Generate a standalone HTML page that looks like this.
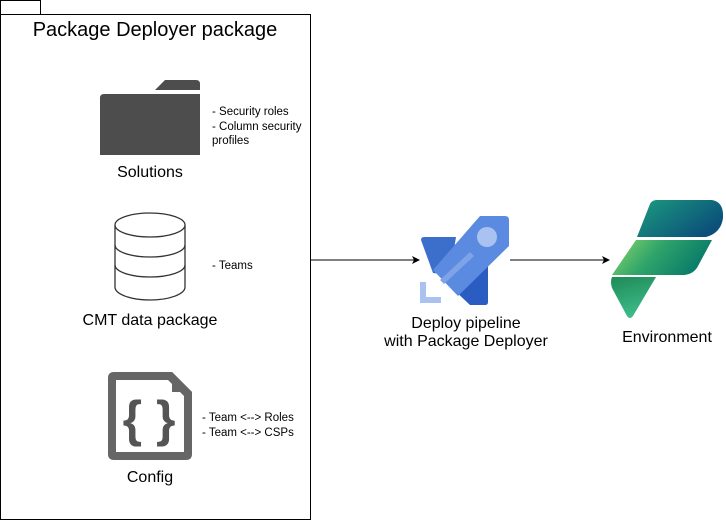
<!DOCTYPE html>
<html><head><style>
html,body{margin:0;padding:0;background:#fff;width:726px;height:521px;overflow:hidden}
text{font-family:"Liberation Sans",Arial,sans-serif;fill:#000}
</style></head><body>
<svg width="726" height="521" viewBox="0 0 726 521" xmlns="http://www.w3.org/2000/svg">
<defs>
<linearGradient id="g1" x1="0" y1="0" x2="1" y2="0.6"><stop offset="0" stop-color="#1c9c7e"/><stop offset="1" stop-color="#0b4f7a"/></linearGradient>
<linearGradient id="g2" x1="0" y1="0" x2="1" y2="0.3"><stop offset="0" stop-color="#8ad86a"/><stop offset="0.5" stop-color="#2ea36a"/><stop offset="1" stop-color="#0a7b6a"/></linearGradient>
<linearGradient id="g3" x1="0" y1="0" x2="0.3" y2="1"><stop offset="0" stop-color="#1e8a56"/><stop offset="1" stop-color="#3dbb8a"/></linearGradient>
</defs>
<rect x="0.5" y="0.5" width="40" height="14" fill="#fff" stroke="#000"/>
<rect x="0.5" y="14.5" width="310" height="505" fill="#fff" stroke="#000"/>
<text x="155" y="36" font-size="20" text-anchor="middle">Package Deployer package</text>
<path d="M155 90 L165 80 H196 Q200 80 200 84 V90 Z" fill="#4d4d4d"/>
<path d="M104 94 H200 V155 H100 V98 Q100 94 104 94 Z" fill="#4d4d4d"/>
<text x="150" y="177" font-size="16" text-anchor="middle">Solutions</text>
<text x="212" y="115" font-size="11.5">- Security roles</text>
<text x="212" y="130" font-size="11.5">- Column security</text>
<text x="212" y="144" font-size="11.5">profiles</text>
<g fill="#fff" stroke="#333" stroke-width="1.3">
<path d="M115 225 V287 A35 13 0 0 0 185 287 V225"/>
<ellipse cx="150" cy="225" rx="35" ry="12"/>
<path d="M115 245 A35 12 0 0 0 185 245" fill="none"/>
<path d="M115 265 A35 12 0 0 0 185 265" fill="none"/>
</g>
<text x="150" y="325" font-size="16" text-anchor="middle">CMT data package</text>
<text x="212" y="269" font-size="11.5">- Teams</text>
<path d="M114 372 H172 L192 392 V454 Q192 460 186 460 H114 Q108 460 108 454 V378 Q108 372 114 372 Z M116 380 V452 H184 V396 L168 380 Z" fill="#666" fill-rule="evenodd"/>
<path d="M172 372 L192 392 H172 Z" fill="#666"/>
<text x="149" y="436" font-size="50" font-weight="bold" text-anchor="middle" style="fill:#555">{ }</text>
<text x="150" y="482" font-size="16" text-anchor="middle">Config</text>
<text x="202" y="421" font-size="11.5">- Team &lt;--&gt; Roles</text>
<text x="202" y="436" font-size="11.5">- Team &lt;--&gt; CSPs</text>
<line x1="311" y1="260" x2="414" y2="260" stroke="#000"/>
<path d="M420 260 L412 256 L414 260 L412 264 Z" fill="#000"/>
<line x1="510" y1="260" x2="604" y2="260" stroke="#000"/>
<path d="M610 260 L602 256 L604 260 L602 264 Z" fill="#000"/>
<path d="M421 240 Q421 237 424 237 L456 237 L450 275 L433 273 Z" fill="#3b6fcb"/>
<path d="M460 275 L488 252 V302 Q488 305 485 305 H470 L452 288 Z" fill="#2a5cc2"/>
<path d="M433 270 L480 216 H505 Q509 216 509 220 V246 L458 296 Z" fill="#5b8be0"/>
<circle cx="487" cy="237" r="10" fill="#a9c2f0"/>
<path d="M440 280 L470 252 L474 256 L444 284 Z" fill="#7ea3e8"/>
<path d="M420 282 H426 V297 H441 V303 H420 Z" fill="#a9c2f0"/>
<text x="466" y="328" font-size="16" text-anchor="middle">Deploy pipeline</text>
<text x="466" y="346" font-size="16" text-anchor="middle">with Package Deployer</text>
<path d="M650 204 Q652 200 657 200 H712 Q724 202 723 218 Q721 233 706 237 H637 Z" fill="url(#g1)"/>
<path d="M636 240 H712 L698 266 Q694 274 684 275 H612 Z" fill="url(#g2)"/>
<path d="M612 277 H656 L633 316 Q630 320 627 316 L612 288 Q610 282 612 277 Z" fill="url(#g3)"/>
<text x="667" y="342" font-size="16" text-anchor="middle">Environment</text>
</svg>
</body></html>
